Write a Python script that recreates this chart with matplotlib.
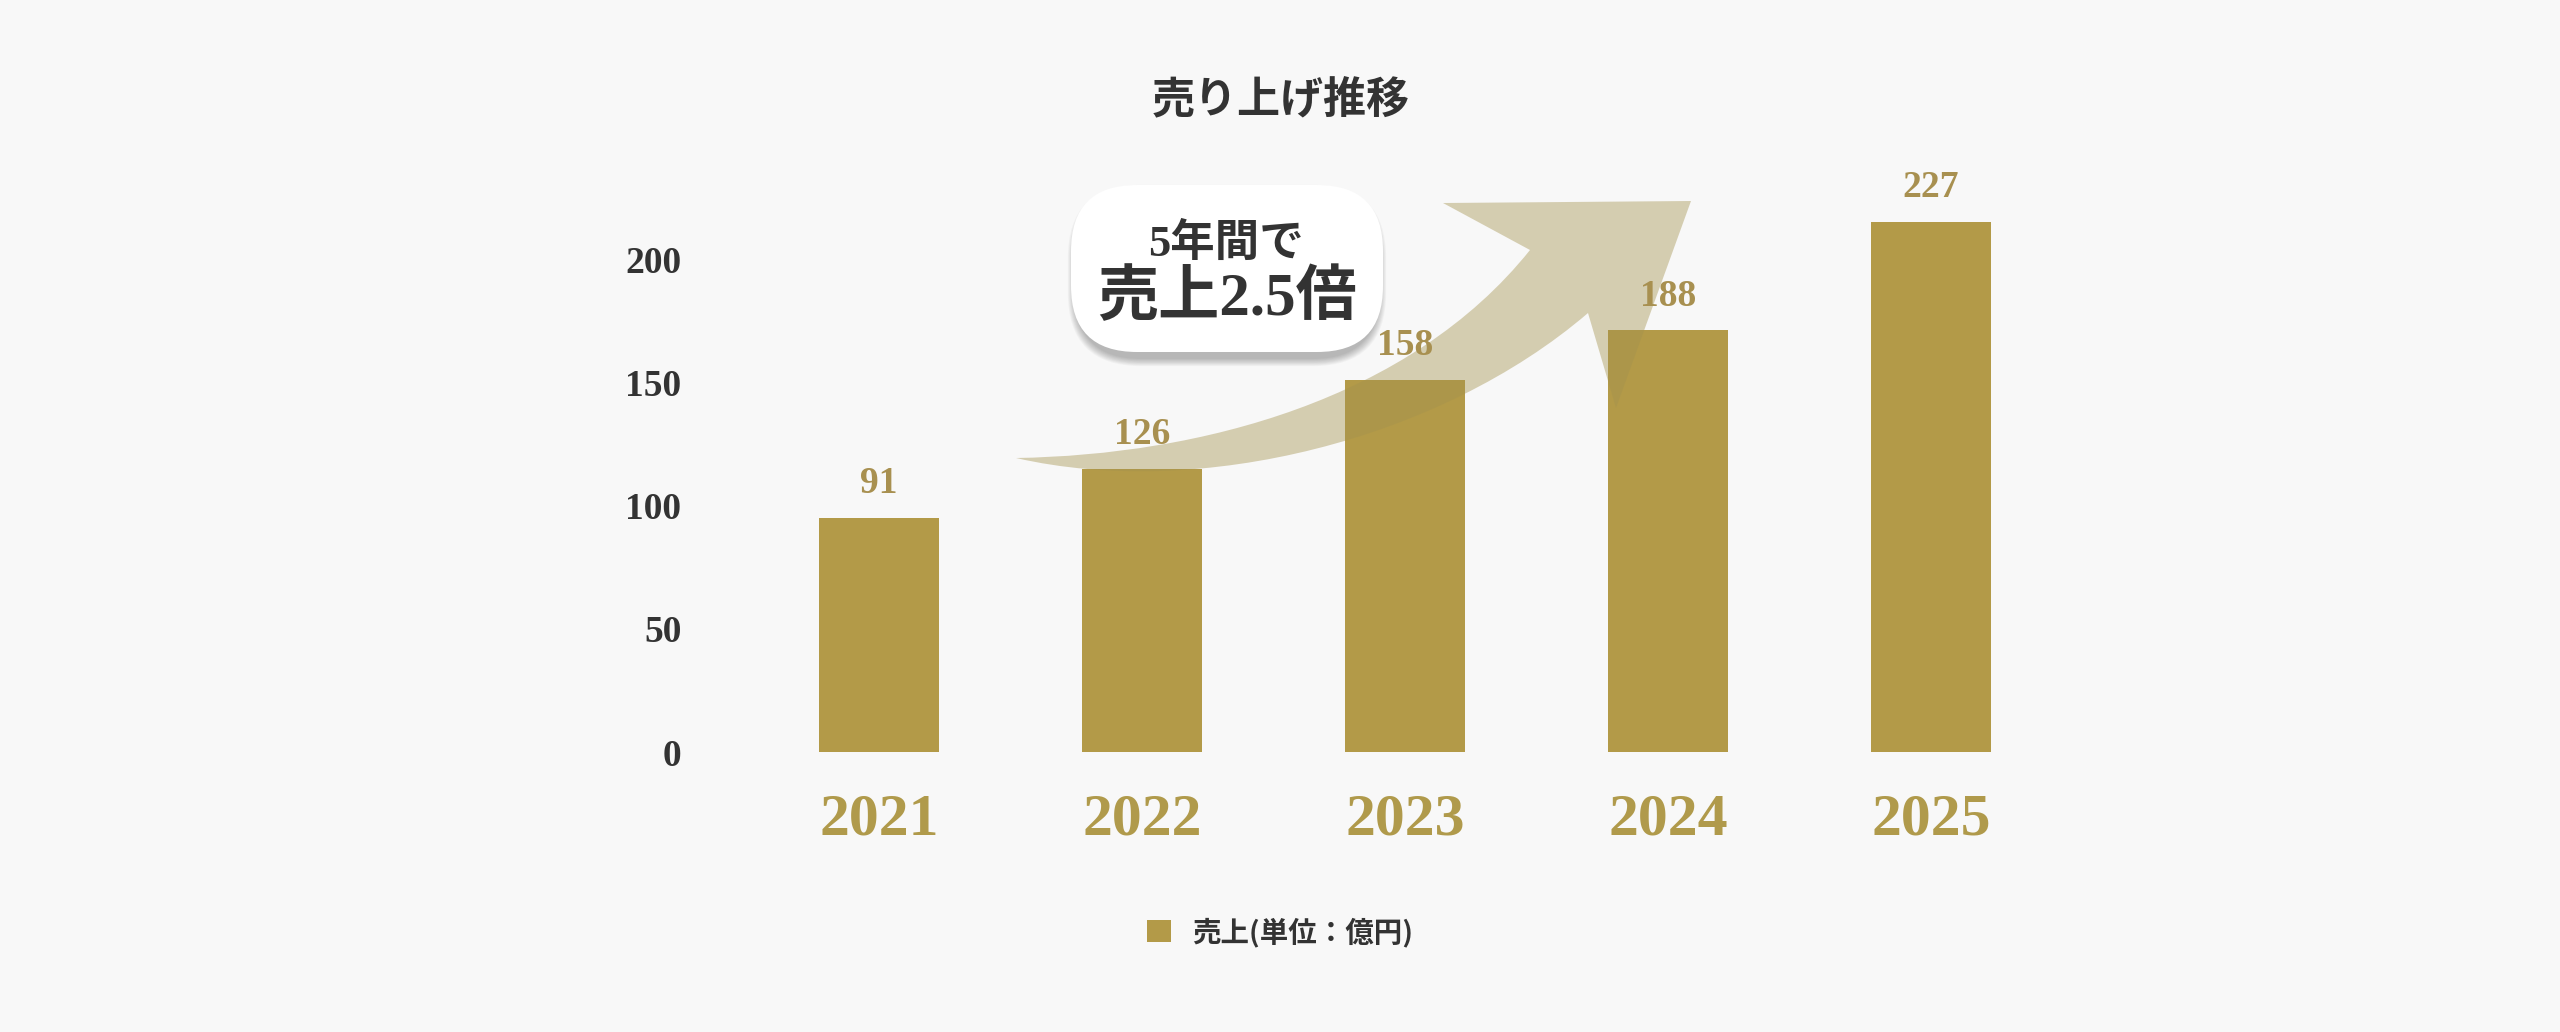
import matplotlib
matplotlib.use('Agg')
import matplotlib.pyplot as plt
from matplotlib.path import Path
from matplotlib.patches import PathPatch, FancyBboxPatch
from matplotlib.transforms import Affine2D
from matplotlib.font_manager import FontProperties

# ---------------- data ----------------
years = ['2021', '2022', '2023', '2024', '2025']
sales = [95, 115, 151, 171, 215]            # bar heights as drawn on the axis
sales_labels = ['91', '126', '158', '188', '227']  # value labels printed above bars
yticks = [0, 50, 100, 150, 200]
title = '売り上げ推移'
legend_label = '売上(単位：億円)'
callout_line1 = '5年間で'
callout_line2 = '売上2.5倍'

# ---------------- style ----------------
W, H, DPI = 2560, 1032, 100
BG = '#f8f8f8'
BAR = '#b39a48'
GOLD_TXT = '#a89050'
YEAR_TXT = '#b09a4b'
DARK = '#333333'
ARROW = '#a3924e'
SERIF = ['Liberation Serif', 'DejaVu Serif']
CJK = ['Noto Sans CJK JP', 'DejaVu Sans']
MIXED = ['Liberation Serif', 'Noto Sans CJK JP']

fig = plt.figure(figsize=(W / DPI, H / DPI), dpi=DPI)
fig.patch.set_facecolor(BG)

# pixel transform (x from left, y from bottom) -> figure
px = Affine2D().scale(1.0 / W, 1.0 / H) + fig.transFigure


def top(y):
    return H - y


base_px = 752
unit_px = 2.465
ymax = 240
ax = fig.add_axes([703 / W, (H - base_px) / H, 1400 / W, ymax * unit_px / H])
ax.set_facecolor('none')

x = list(range(len(years)))
bars = ax.bar(x, sales, width=0.455, color=BAR, label=legend_label, zorder=2)
ax.set_xlim(-0.669, 4.654)
ax.set_ylim(0, ymax)

ax.bar_label(bars, labels=sales_labels, padding=12, color=GOLD_TXT,
             fontsize=27, fontweight='bold', family=SERIF, zorder=4)

ax.set_yticks(yticks)
ax.set_yticklabels([str(v) for v in yticks])
ax.set_xticks(x)
ax.set_xticklabels(years)
ax.tick_params(axis='y', length=0, pad=15.5, labelsize=27, labelcolor=DARK)
ax.tick_params(axis='x', length=0, pad=30, labelsize=43, labelcolor=YEAR_TXT)
for lab in ax.get_yticklabels() + ax.get_xticklabels():
    lab.set_family(SERIF)
    lab.set_fontweight('bold')
for s in ax.spines.values():
    s.set_visible(False)

# ---------------- curved arrow ----------------
T = (1016, 458)
N = (1530, 250)
arrow_pts = [
    (T, Path.MOVETO),
    ((1200, 455), Path.CURVE4), ((1410, 400), Path.CURVE4), (N, Path.CURVE4),
    ((1443, 203), Path.LINETO),
    ((1691, 201), Path.LINETO),
    ((1616, 408), Path.LINETO),
    ((1588, 313), Path.LINETO),
    ((1440, 440), Path.CURVE4), ((1200, 500), Path.CURVE4), (T, Path.CURVE4),
    (T, Path.CLOSEPOLY),
]
verts = [(p[0], top(p[1])) for p, _ in arrow_pts]
codes = [c for _, c in arrow_pts]
arrow = PathPatch(Path(verts, codes), facecolor=ARROW, edgecolor='none',
                  alpha=0.42, transform=px, clip_on=False, zorder=3)
ax.add_patch(arrow)

# ---------------- callout bubble ----------------
bx0, bx1, by0, by1 = 1071, 1383, 185, 352
bw, bh = bx1 - bx0, by1 - by0
for i in range(10):
    sh = FancyBboxPatch((bx0 + 4 - i * 0.8, top(by1) - 7 - i * 0.8), bw - 8 + i * 1.6, bh + i * 1.6,
                        boxstyle='round,pad=0,rounding_size=%g' % (66 + i * 0.8),
                        facecolor='black', edgecolor='none', alpha=0.028,
                        transform=px, clip_on=False, zorder=5)
    ax.add_patch(sh)
bubble = FancyBboxPatch((bx0, top(by1)), bw, bh,
                        boxstyle='round,pad=0,rounding_size=66',
                        facecolor='white', edgecolor='none',
                        transform=px, clip_on=False, zorder=6)
ax.add_patch(bubble)

fig.text(1226 / W, top(244) / H, callout_line1, ha='center', va='center',
         fontsize=32, fontweight='bold', family=MIXED, color=DARK, zorder=7)
fig.text(1227 / W, top(299) / H, callout_line2, ha='center', va='center',
         fontsize=44, fontweight='bold', family=MIXED, color=DARK, zorder=7)

# ---------------- title ----------------
fig.text(1281 / W, top(99) / H, title, ha='center', va='center',
         fontsize=31, fontweight='bold', family=CJK, color=DARK)

# ---------------- legend ----------------
leg = ax.legend(loc='center', bbox_to_anchor=(1280 / W, top(932) / H),
                bbox_transform=fig.transFigure, frameon=False,
                prop=FontProperties(family=CJK, weight='bold', size=20.5),
                handlelength=0.85, handleheight=0.85, handletextpad=0.75,
                labelcolor=DARK)

fig.savefig('out.png', dpi=DPI, facecolor=BG)
